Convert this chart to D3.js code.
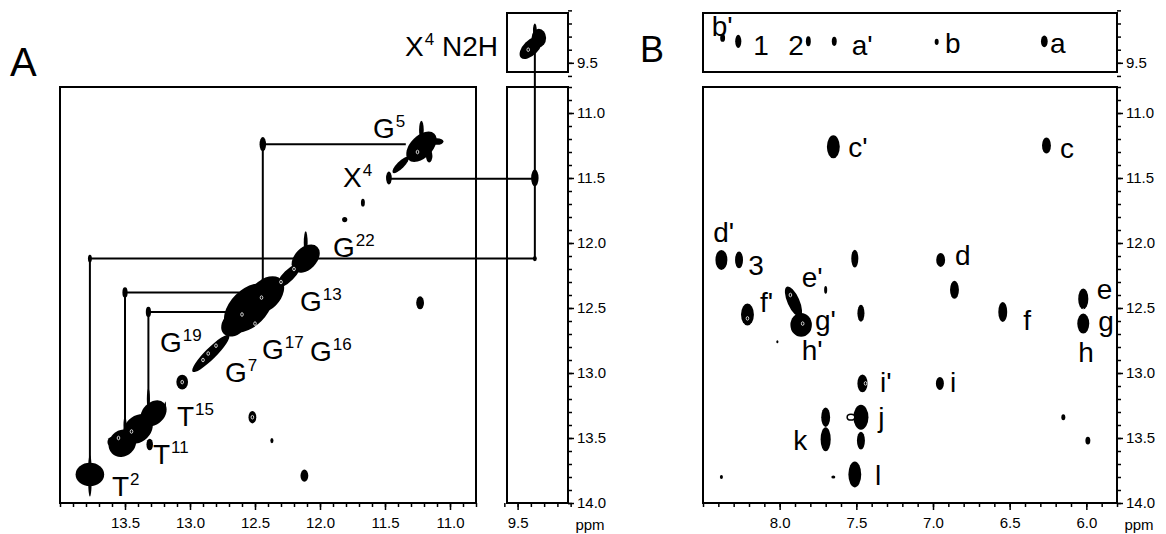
<!DOCTYPE html>
<html><head><meta charset="utf-8">
<script src="https://cdn.jsdelivr.net/npm/d3@7"></script>
<style>
html,body{margin:0;padding:0;background:#fff;}
svg{display:block;font-family:"Liberation Sans",Arial,Helvetica,sans-serif;}
</style></head><body>
<svg id="chart" width="1166" height="534"></svg>
<script>
// ---------------- data (all in ppm) ----------------
const tickMajorY = [11.0, 11.5, 12.0, 12.5, 13.0, 13.5, 14.0];
const tickMajorXA = [13.5, 13.0, 12.5, 12.0, 11.5, 11.0];
const tickMajorXN = [9.5];
const tickMajorStrip = [9.5];
const tickMajorXB = [8.0, 7.5, 7.0, 6.5, 6.0];

// Panel A: diagonal contour clusters [x, y, along-diagonal half, across half]
const aDiagonal = [
  [11.22, 11.26, 0.10, 0.06],
  [11.38, 11.40, 0.06, 0.02],
  [12.11, 12.12, 0.09, 0.06],
  [12.24, 12.25, 0.09, 0.03],
  [12.42, 12.40, 0.12, 0.08],
  [12.55, 12.50, 0.16, 0.10],
  [12.66, 12.62, 0.08, 0.06],
  [12.84, 12.85, 0.14, 0.03],
  [13.28, 13.31, 0.08, 0.06],
  [13.40, 13.43, 0.09, 0.07],
  [13.52, 13.54, 0.08, 0.07],
  [9.40, 9.385, 0.075, 0.04]
];
// Panel A: individual peaks [x, y, half-width x, half-width y]
const aPeaks = [
  [12.44, 11.24, 0.025, 0.055],
  [13.77, 12.12, 0.015, 0.03],
  [13.50, 12.38, 0.02, 0.04],
  [13.32, 12.53, 0.02, 0.04],
  [9.37, 11.50, 0.028, 0.065],
  [9.37, 12.12, 0.015, 0.02],
  [11.23, 12.46, 0.03, 0.05],
  [13.06, 13.07, 0.045, 0.057],
  [12.52, 13.34, 0.03, 0.048],
  [12.37, 13.52, 0.012, 0.02],
  [12.12, 13.79, 0.03, 0.047],
  [11.67, 11.69, 0.015, 0.03],
  [11.81, 11.82, 0.02, 0.02],
  [11.47, 11.50, 0.022, 0.05],
  [11.22, 11.13, 0.018, 0.07],
  [11.10, 11.22, 0.05, 0.025],
  [11.16, 11.33, 0.025, 0.05],
  [12.11, 12.00, 0.015, 0.09],
  [12.44, 12.33, 0.015, 0.06],
  [13.32, 13.20, 0.012, 0.08],
  [13.50, 13.40, 0.012, 0.06],
  [13.31, 13.55, 0.025, 0.045],
  [13.60, 13.53, 0.035, 0.04],
  [13.19, 13.265, 0.006, 0.045],
  [13.77, 13.78, 0.11, 0.09],
  [13.77, 13.79, 0.015, 0.16],
  [9.34, 9.31, 0.055, 0.07],
  [9.37, 9.25, 0.014, 0.05]
];
const aSpecks = [
  [12.80, 12.79], [12.90, 12.90], [12.86, 12.85], [12.45, 12.42], [12.60, 12.55],
  [12.50, 12.62], [13.06, 13.07], [12.52, 13.34], [11.25, 11.30], [13.45, 13.45],
  [13.55, 13.50], [9.42, 9.40], [12.20, 12.20], [12.30, 12.30]
];
// connector lines [x1, y1, x2, y2]
const aConnectors = [
  [12.44, 11.24, 11.34, 11.24],
  [12.44, 11.24, 12.44, 12.38],
  [11.47, 11.505, 9.37, 11.505],
  [9.37, 9.36, 9.37, 12.12],
  [13.77, 12.12, 9.37, 12.12],
  [13.77, 12.12, 13.77, 13.72],
  [13.50, 12.38, 12.62, 12.38],
  [13.50, 12.38, 13.50, 13.45],
  [13.32, 12.53, 12.65, 12.53],
  [13.32, 12.53, 13.32, 13.28]
];
// labels [main, superscript, x, y(baseline)]
const aLabels = [
  ["G", "5", 11.592, 11.192], ["X", "4", 11.823, 11.569], ["G", "22", 11.90, 12.108],
  ["G", "13", 12.154, 12.523], ["G", "19", 13.231, 12.838], ["G", "17", 12.446, 12.892],
  ["G", "16", 12.077, 12.908], ["G", "7", 12.731, 13.069], ["T", "15", 13.10, 13.408],
  ["T", "11", 13.285, 13.70], ["T", "2", 13.60, 13.946]
];

// Panel B peaks [x, y, half-width x, half-width y, angle]
const bPeaks = [
  [8.372, 9.31, 0.016, 0.03], [8.270, 9.336, 0.02, 0.05], [7.813, 9.336, 0.016, 0.038],
  [7.644, 9.336, 0.016, 0.035], [6.976, 9.34, 0.013, 0.024], [6.274, 9.336, 0.022, 0.045],
  [7.65, 11.26, 0.042, 0.088], [6.26, 11.25, 0.029, 0.062], [8.38, 12.13, 0.039, 0.077],
  [8.265, 12.13, 0.026, 0.065], [7.51, 12.12, 0.023, 0.069], [6.95, 12.13, 0.029, 0.054],
  [6.86, 12.36, 0.029, 0.069], [6.02, 12.43, 0.033, 0.08], [6.02, 12.62, 0.039, 0.077],
  [6.545, 12.53, 0.029, 0.077], [8.21, 12.55, 0.042, 0.085], [7.91, 12.45, 0.039, 0.125, -24],
  [7.86, 12.63, 0.07, 0.092], [7.70, 12.36, 0.01, 0.03], [8.015, 12.76, 0.007, 0.012],
  [7.47, 12.54, 0.023, 0.065], [7.46, 13.08, 0.033, 0.069], [6.955, 13.08, 0.026, 0.05],
  [7.47, 13.34, 0.049, 0.096], [7.70, 13.34, 0.029, 0.075], [7.70, 13.51, 0.033, 0.092],
  [7.47, 13.52, 0.026, 0.069], [7.51, 13.78, 0.042, 0.10], [7.65, 13.80, 0.013, 0.012],
  [8.38, 13.80, 0.01, 0.015], [6.15, 13.34, 0.013, 0.023], [5.99, 13.52, 0.016, 0.03]
];
const bRings = [[7.535, 13.34, 0.025, 0.022]];
const bSpecks = [[7.93, 12.40], [7.85, 12.62], [6.02, 12.52], [7.44, 13.08], [8.21, 12.58]];
const bLabels = [
  ["b'", 8.443, 9.298], ["1", 8.172, 9.438], ["2", 7.944, 9.438], ["a'", 7.530, 9.438],
  ["b", 6.922, 9.428], ["a", 6.237, 9.428],
  ["c'", 7.552, 11.336], ["c", 6.172, 11.348], ["d'", 8.433, 11.99], ["3", 8.205, 12.246],
  ["d", 6.857, 12.169], ["e", 5.932, 12.43], ["f", 6.411, 12.669], ["g", 5.922, 12.68],
  ["h", 6.052, 12.913], ["i'", 7.346, 13.144], ["i", 6.889, 13.144], ["j", 7.357, 13.413],
  ["k", 7.911, 13.592], ["l", 7.378, 13.862], ["f'", 8.128, 12.528], ["e'", 7.856, 12.336],
  ["g'", 7.770, 12.669], ["h'", 7.856, 12.90]
];

// ---------------- scales ----------------
const xA = d3.scaleLinear([14.0, 10.8], [60, 476]);
const xN = d3.scaleLinear([9.58, 9.12], [507, 568]);
const yM = d3.scaleLinear([10.8, 14.0], [87, 503]);
const yS = d3.scaleLinear([9.12, 9.57], [13, 72]);
const xB = d3.scaleLinear([8.5, 5.8], [703, 1117]);

function fxA(p) { return p >= 10.8 ? xA(p) : p <= 9.58 ? xN(p) : d3.scaleLinear([10.8, 9.58], [476, 507])(p); }
function fy(p) { return p >= 10.8 ? yM(p) : p <= 9.57 ? yS(p) : d3.scaleLinear([9.57, 10.8], [72, 87])(p); }

const svg = d3.select("#chart");
svg.append("rect").attr("width", 1166).attr("height", 534).attr("fill", "#fff");

// ---------------- boxes & axes ----------------
function box(x0, x1, y0, y1) {
  svg.append("rect").attr("x", x0).attr("y", y0).attr("width", x1 - x0).attr("height", y1 - y0)
    .attr("fill", "none").attr("stroke", "#000").attr("stroke-width", 2);
}
function tenths(a, b) {
  const lo = Math.round(Math.min(a, b) * 10), hi = Math.round(Math.max(a, b) * 10);
  return d3.range(lo, hi + 1).map(v => v / 10);
}
const fmt = d3.format(".1f");
function axis(gen, scale, majors, tx, ty, size, pad) {
  const minor = tenths(scale.domain()[0], scale.domain()[1]);
  const g1 = svg.append("g").attr("transform", `translate(${tx},${ty})`)
    .call(gen(scale).tickValues(minor).tickSize(4).tickFormat(""));
  const g2 = svg.append("g").attr("transform", `translate(${tx},${ty})`)
    .call(gen(scale).tickValues(majors).tickSize(size).tickPadding(pad).tickFormat(fmt));
  [g1, g2].forEach(g => {
    g.select(".domain").remove();
    g.selectAll("line").attr("stroke", "#000").attr("stroke-width", 1.5);
    g.selectAll("text").attr("font-size", 15).attr("font-family", "Liberation Sans, Arial, sans-serif").attr("fill", "#000");
  });
}

// Panel A boxes
box(60, 476, 87, 503);
box(507, 568, 87, 503);
box(507, 568, 13, 72);
axis(d3.axisBottom, xA, tickMajorXA, 0, 503, 7, 7);
axis(d3.axisBottom, xN, tickMajorXN, 0, 503, 7, 7);
axis(d3.axisRight, yM, tickMajorY, 568, 0, 6, 3);
axis(d3.axisRight, yS, tickMajorStrip, 568, 0, 6, 3);
// Panel B boxes
box(703, 1117, 87, 503);
box(703, 1117, 13, 72);
axis(d3.axisBottom, xB, tickMajorXB, 0, 503, 7, 7);
axis(d3.axisRight, yM, tickMajorY, 1117, 0, 6, 3);
axis(d3.axisRight, yS, tickMajorStrip, 1117, 0, 6, 3);

svg.append("text").attr("x", 590).attr("y", 530).attr("text-anchor", "middle").attr("font-size", 15).text("ppm");
svg.append("text").attr("x", 1139).attr("y", 530).attr("text-anchor", "middle").attr("font-size", 15).text("ppm");

// ---------------- Panel A content ----------------
const gA = svg.append("g");
gA.selectAll("line.conn").data(aConnectors).join("line")
  .attr("x1", d => fxA(d[0])).attr("y1", d => fy(d[1]))
  .attr("x2", d => fxA(d[2])).attr("y2", d => fy(d[3]))
  .attr("stroke", "#000").attr("stroke-width", 2);

gA.selectAll("ellipse.diag").data(aDiagonal).join("ellipse")
  .attr("cx", d => fxA(d[0])).attr("cy", d => fy(d[1]))
  .attr("rx", d => Math.abs(fxA(d[0] + d[2]) - fxA(d[0])) * Math.SQRT2)
  .attr("ry", d => Math.abs(fxA(d[0] + d[3]) - fxA(d[0])) * Math.SQRT2)
  .attr("transform", d => `rotate(-45,${fxA(d[0])},${fy(d[1])})`)
  .attr("fill", "#000");

gA.selectAll("ellipse.pk").data(aPeaks).join("ellipse")
  .attr("cx", d => fxA(d[0])).attr("cy", d => fy(d[1]))
  .attr("rx", d => Math.abs(fxA(d[0] + d[2]) - fxA(d[0])))
  .attr("ry", d => Math.abs(fy(d[1] + d[3]) - fy(d[1])))
  .attr("fill", "#000");

gA.selectAll("ellipse.sp").data(aSpecks).join("ellipse")
  .attr("cx", d => fxA(d[0])).attr("cy", d => fy(d[1]))
  .attr("rx", 1.3).attr("ry", 1.8).attr("fill", "none").attr("stroke", "#fff").attr("stroke-width", 0.8);

const lab = gA.selectAll("text.lab").data(aLabels).join("text")
  .attr("x", d => fxA(d[2])).attr("y", d => fy(d[3]))
  .attr("font-size", 28).attr("fill", "#000");
lab.append("tspan").text(d => d[0]);
lab.append("tspan").attr("font-size", 17).attr("dx", 1).attr("dy", -11).text(d => d[1]);

const xl = svg.append("text").attr("x", 498).attr("y", 56).attr("text-anchor", "end").attr("font-size", 28);
xl.append("tspan").text("X");
xl.append("tspan").attr("font-size", 17).attr("dx", 1).attr("dy", -11).text("4");
xl.append("tspan").attr("dy", 11).text(" N2H");

svg.append("text").attr("x", 10).attr("y", 76).attr("font-size", 40).text("A");
svg.append("text").attr("x", 640).attr("y", 62).attr("font-size", 36).text("B");

// ---------------- Panel B content ----------------
const gB = svg.append("g");
gB.selectAll("ellipse.pk").data(bPeaks).join("ellipse")
  .attr("cx", d => xB(d[0])).attr("cy", d => fy(d[1]))
  .attr("rx", d => Math.abs(xB(d[0] + d[2]) - xB(d[0])))
  .attr("ry", d => Math.abs(fy(d[1] + d[3]) - fy(d[1])))
  .attr("transform", d => d[4] ? `rotate(${d[4]},${xB(d[0])},${fy(d[1])})` : null)
  .attr("fill", "#000");
gB.selectAll("ellipse.ring").data(bRings).join("ellipse")
  .attr("cx", d => xB(d[0])).attr("cy", d => fy(d[1]))
  .attr("rx", d => Math.abs(xB(d[0] + d[2]) - xB(d[0])))
  .attr("ry", d => Math.abs(fy(d[1] + d[3]) - fy(d[1])))
  .attr("fill", "#fff").attr("stroke", "#000").attr("stroke-width", 1.5);
gB.selectAll("ellipse.sp").data(bSpecks).join("ellipse")
  .attr("cx", d => xB(d[0])).attr("cy", d => fy(d[1]))
  .attr("rx", 1.3).attr("ry", 1.8).attr("fill", "none").attr("stroke", "#fff").attr("stroke-width", 0.8);
gB.selectAll("text.lab").data(bLabels).join("text")
  .attr("x", d => xB(d[1])).attr("y", d => fy(d[2]))
  .attr("font-size", 28).attr("fill", "#000").text(d => d[0]);
</script>
</body></html>
